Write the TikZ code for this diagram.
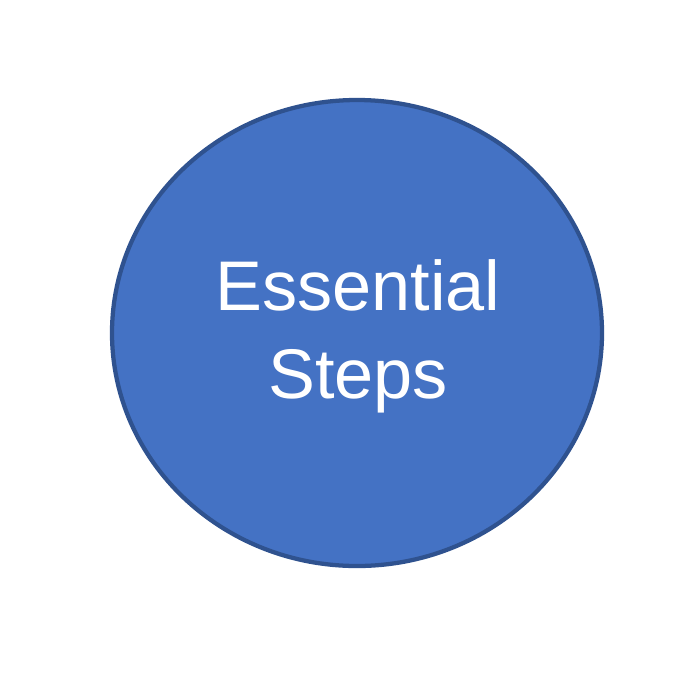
\documentclass[tikz,border=0pt]{standalone}
\usepackage{fontspec}
\setmainfont{Liberation Sans}
\usetikzlibrary{shapes.geometric}
\definecolor{stepfill}{HTML}{4472C4}
\definecolor{stepline}{HTML}{2F528F}

\begin{document}
\begin{tikzpicture}[x=0.75pt,y=-0.75pt,
  stepcircle/.style={ellipse,draw=stepline,fill=stepfill,line width=3.2pt,
    minimum width=490*0.75pt,minimum height=466*0.75pt,inner sep=0pt},
  steptext/.style={text=white,font=\fontsize{52.7}{62}\selectfont,anchor=base,inner sep=0pt}]
\useasboundingbox (0,0) rectangle (699,672);
\node[stepcircle] (essential) at (357,333) {};
\node[steptext] (word1) at (358,310) {Essential};
\node[steptext] (word2) at (358,398) {Steps};
\end{tikzpicture}
\end{document}
